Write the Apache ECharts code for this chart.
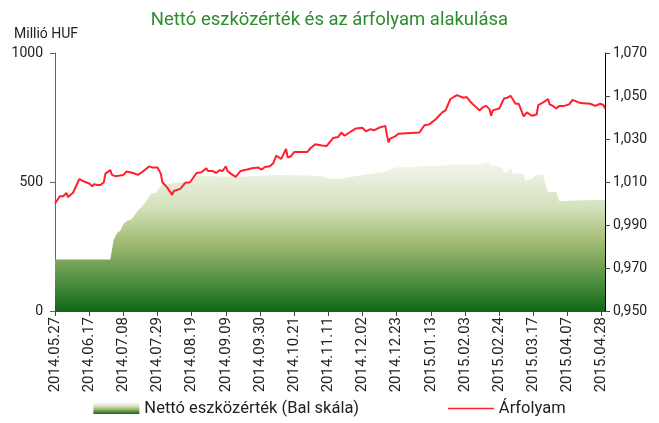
<!DOCTYPE html>
<html>
<head>
<meta charset="utf-8">
<script src="https://cdn.jsdelivr.net/npm/echarts@6/dist/echarts.min.js"></script>
<style>
  html, body { margin: 0; padding: 0; background: #fff; }
  #chart { width: 659px; height: 423px; }
</style>
</head>
<body>
<div id="chart"></div>
<script>
// x axis tick labels (every 3 weeks)
const tickLabels = [
  "2014.05.27", "2014.06.17", "2014.07.08", "2014.07.29", "2014.08.19",
  "2014.09.09", "2014.09.30", "2014.10.21", "2014.11.11", "2014.12.02",
  "2014.12.23", "2015.01.13", "2015.02.03", "2015.02.24", "2015.03.17",
  "2015.04.07", "2015.04.28",
];
const navTicks = [0, 500, 1000];
const priceTicks = [0.95, 0.97, 0.99, 1.01, 1.03, 1.05, 1.07];

// Nettó eszközérték (millió HUF)
const navDates = [
  "2014-05-27", "2014-06-30", "2014-07-01", "2014-07-02", "2014-07-04",
  "2014-07-06", "2014-07-08", "2014-07-10", "2014-07-13", "2014-07-15",
  "2014-07-17", "2014-07-20", "2014-07-23", "2014-07-25", "2014-07-28",
  "2014-07-30", "2014-08-01", "2014-08-06", "2014-08-14", "2014-08-18",
  "2014-08-22", "2014-09-01", "2014-09-17", "2014-09-25", "2014-10-10",
  "2014-10-29", "2014-11-06", "2014-11-12", "2014-11-18", "2014-11-24",
  "2014-12-04", "2014-12-15", "2014-12-23", "2014-12-31", "2015-01-06",
  "2015-01-16", "2015-01-27", "2015-02-09", "2015-02-15", "2015-02-17",
  "2015-02-19", "2015-02-23", "2015-02-26", "2015-02-27", "2015-03-01",
  "2015-03-03", "2015-03-04", "2015-03-11", "2015-03-12", "2015-03-16",
  "2015-03-18", "2015-03-23", "2015-03-24", "2015-03-26", "2015-03-31",
  "2015-04-02", "2015-04-11", "2015-04-24", "2015-04-30",
];
const navValues = [
  200, 200, 235, 274, 302,
  310, 336, 349, 356, 372,
  390, 409, 434, 455, 457,
  478, 489, 494, 499, 504,
  525, 522, 520, 522, 527,
  525, 523, 513, 513, 518,
  529, 539, 557, 557, 560,
  562, 568, 568, 573, 581,
  565, 560, 555, 537, 539,
  555, 534, 531, 506, 511,
  526, 529, 498, 461, 461,
  425, 428, 430, 430,
];

// Árfolyam
const priceDates = [
  "2014-05-27", "2014-05-28", "2014-05-30", "2014-06-01", "2014-06-03",
  "2014-06-04", "2014-06-05", "2014-06-07", "2014-06-11", "2014-06-13",
  "2014-06-15", "2014-06-17", "2014-06-19", "2014-06-20", "2014-06-22",
  "2014-06-24", "2014-06-26", "2014-06-27", "2014-06-30", "2014-07-01",
  "2014-07-03", "2014-07-06", "2014-07-08", "2014-07-10", "2014-07-14",
  "2014-07-17", "2014-07-20", "2014-07-24", "2014-07-26", "2014-07-29",
  "2014-07-31", "2014-08-01", "2014-08-04", "2014-08-05", "2014-08-07",
  "2014-08-08", "2014-08-12", "2014-08-15", "2014-08-18", "2014-08-22",
  "2014-08-25", "2014-08-28", "2014-08-29", "2014-09-01", "2014-09-03",
  "2014-09-05", "2014-09-07", "2014-09-09", "2014-09-10", "2014-09-12",
  "2014-09-15", "2014-09-18", "2014-09-22", "2014-09-25", "2014-09-26",
  "2014-09-29", "2014-10-01", "2014-10-03", "2014-10-06", "2014-10-08",
  "2014-10-10", "2014-10-13", "2014-10-16", "2014-10-17", "2014-10-19",
  "2014-10-21", "2014-10-26", "2014-10-29", "2014-10-31", "2014-11-03",
  "2014-11-07", "2014-11-10", "2014-11-14", "2014-11-17", "2014-11-19",
  "2014-11-21", "2014-11-25", "2014-11-28", "2014-12-02", "2014-12-04",
  "2014-12-07", "2014-12-09", "2014-12-12", "2014-12-16", "2014-12-17",
  "2014-12-18", "2014-12-19", "2014-12-22", "2014-12-24", "2014-12-29",
  "2015-01-06", "2015-01-09", "2015-01-12", "2015-01-16", "2015-01-20",
  "2015-01-22", "2015-01-23", "2015-01-25", "2015-01-29", "2015-02-02",
  "2015-02-04", "2015-02-07", "2015-02-09", "2015-02-12", "2015-02-14",
  "2015-02-16", "2015-02-18", "2015-02-19", "2015-02-20", "2015-02-24",
  "2015-02-27", "2015-03-01", "2015-03-03", "2015-03-06", "2015-03-08",
  "2015-03-11", "2015-03-13", "2015-03-16", "2015-03-19", "2015-03-20",
  "2015-03-23", "2015-03-24", "2015-03-26", "2015-03-27", "2015-03-29",
  "2015-03-31", "2015-04-02", "2015-04-05", "2015-04-08", "2015-04-10",
  "2015-04-13", "2015-04-15", "2015-04-21", "2015-04-24", "2015-04-27",
  "2015-04-29", "2015-04-30",
];
const priceValues = [
  1.0000, 1.0003, 1.0034, 1.0034, 1.0049,
  1.0030, 1.0027, 1.0049, 1.0114, 1.0105,
  1.0099, 1.0093, 1.0080, 1.0090, 1.0086,
  1.0086, 1.0099, 1.0139, 1.0155, 1.0133,
  1.0127, 1.0130, 1.0133, 1.0149, 1.0142,
  1.0133, 1.0149, 1.0173, 1.0167, 1.0167,
  1.0139, 1.0099, 1.0074, 1.0083, 1.0040,
  1.0058, 1.0068, 1.0096, 1.0099, 1.0142,
  1.0145, 1.0164, 1.0151, 1.0151, 1.0142,
  1.0155, 1.0151, 1.0173, 1.0151, 1.0139,
  1.0124, 1.0151, 1.0158, 1.0164, 1.0173,
  1.0167, 1.0158, 1.0170, 1.0173, 1.0186,
  1.0223, 1.0207, 1.0254, 1.0214, 1.0220,
  1.0239, 1.0239, 1.0239, 1.0257, 1.0276,
  1.0270, 1.0268, 1.0305, 1.0309, 1.0330,
  1.0315, 1.0336, 1.0349, 1.0352, 1.0336,
  1.0346, 1.0340, 1.0352, 1.0361, 1.0318,
  1.0284, 1.0302, 1.0312, 1.0324, 1.0327,
  1.0330, 1.0364, 1.0368, 1.0392, 1.0424,
  1.0433, 1.0426, 1.0486, 1.0504, 1.0492,
  1.0495, 1.0467, 1.0454, 1.0433, 1.0448,
  1.0454, 1.0439, 1.0408, 1.0433, 1.0442,
  1.0489, 1.0492, 1.0501, 1.0464, 1.0464,
  1.0405, 1.0424, 1.0408, 1.0414, 1.0458,
  1.0470, 1.0476, 1.0486, 1.0461, 1.0454,
  1.0442, 1.0454, 1.0454, 1.0461, 1.0482,
  1.0473, 1.0467, 1.0464, 1.0454, 1.0464,
  1.0458, 1.0442,
];

const FONT = "Roboto, sans-serif";

// date string (2014-05-27 or 2014.05.27) -> timestamp
const toTime = (s) => {
  const [y, m, d] = s.split(/[.-]/).map(Number);
  return Date.UTC(y, m - 1, d);
};
const pad = (n) => (n < 10 ? "0" + n : "" + n);
const fmtDate = (t) => {
  const d = new Date(t);
  return d.getUTCFullYear() + "." + pad(d.getUTCMonth() + 1) + "." + pad(d.getUTCDate());
};
const tickTimes = tickLabels.map(toTime);

const areaGradient = () =>
  new echarts.graphic.LinearGradient(0, 0, 0, 1, [
    { offset: 0, color: "#f3f6ec" },
    { offset: 0.3, color: "#d5e2bf" },
    { offset: 0.52, color: "#a6bf78" },
    { offset: 0.68, color: "#77a358" },
    { offset: 0.85, color: "#3f8636" },
    { offset: 1, color: "#126619" },
  ]);

const chart = echarts.init(document.getElementById("chart"));

const option = {
  animation: false,
  title: [
    {
      text: "Nettó eszközérték és az árfolyam alakulása",
      left: "center",
      top: 6,
      textStyle: { color: "#2e8b2e", fontSize: 18.5, fontWeight: "normal", fontFamily: FONT },
    },
    {
      text: "Millió HUF",
      left: 9,
      top: 22,
      textStyle: { color: "#222", fontSize: 14, fontWeight: "normal", fontFamily: FONT },
    },
  ],
  legend: {
    bottom: 1,
    left: "center",
    itemWidth: 46,
    itemHeight: 11,
    itemGap: 88,
    textStyle: { color: "#222", fontSize: 16.5, fontFamily: FONT },
    data: [
      { name: "Nettó eszközérték (Bal skála)", icon: "rect", itemStyle: { color: areaGradient() } },
      { name: "Árfolyam", itemStyle: { opacity: 0 }, lineStyle: { width: 1.5 } },
    ],
  },
  grid: { left: 55, right: 54, top: 53, bottom: 112 },
  xAxis: {
    type: "value",
    min: toTime("2014-05-27"),
    max: toTime("2015-04-30"),
    splitLine: { show: false },
    axisLine: { lineStyle: { color: "#444", width: 1 } },
    axisTick: { customValues: tickTimes, length: 5, lineStyle: { color: "#444" } },
    axisLabel: {
      customValues: tickTimes,
      rotate: 90,
      color: "#222",
      fontSize: 15,
      fontFamily: FONT,
      margin: 6,
      formatter: (v) => fmtDate(v),
    },
  },
  yAxis: [
    {
      type: "value",
      min: 0,
      max: 1000,
      interval: 500,
      splitLine: { show: false },
      axisLine: { show: true, lineStyle: { color: "#666" } },
      axisTick: { show: true, customValues: navTicks, length: 5, lineStyle: { color: "#666" } },
      axisLabel: {
        customValues: navTicks,
        color: "#222",
        fontSize: 14,
        fontFamily: FONT,
        margin: 12,
        formatter: (v) => String(v),
      },
    },
    {
      type: "value",
      min: 0.95,
      max: 1.07,
      position: "right",
      splitLine: { show: false },
      axisLine: { show: true, lineStyle: { color: "#000" } },
      axisTick: { show: true, customValues: priceTicks, length: 5, lineStyle: { color: "#444" } },
      axisLabel: {
        customValues: priceTicks,
        color: "#222",
        fontSize: 14,
        fontFamily: FONT,
        margin: 8,
        formatter: (v) => v.toFixed(3).replace(".", ","),
      },
    },
  ],
  series: [
    {
      name: "Nettó eszközérték (Bal skála)",
      type: "line",
      yAxisIndex: 0,
      symbol: "none",
      lineStyle: { width: 0 },
      areaStyle: { color: areaGradient(), opacity: 1 },
      itemStyle: { color: "#3f7f2f" },
      data: navDates.map((d, i) => [toTime(d), navValues[i]]),
      z: 1,
    },
    {
      name: "Árfolyam",
      type: "line",
      yAxisIndex: 1,
      symbol: "none",
      lineStyle: { color: "#ff1f2d", width: 2 },
      itemStyle: { color: "#ff1f2d" },
      data: priceDates.map((d, i) => [toTime(d), priceValues[i]]),
      z: 3,
    },
  ],
};

chart.setOption(option);
</script>
</body>
</html>
